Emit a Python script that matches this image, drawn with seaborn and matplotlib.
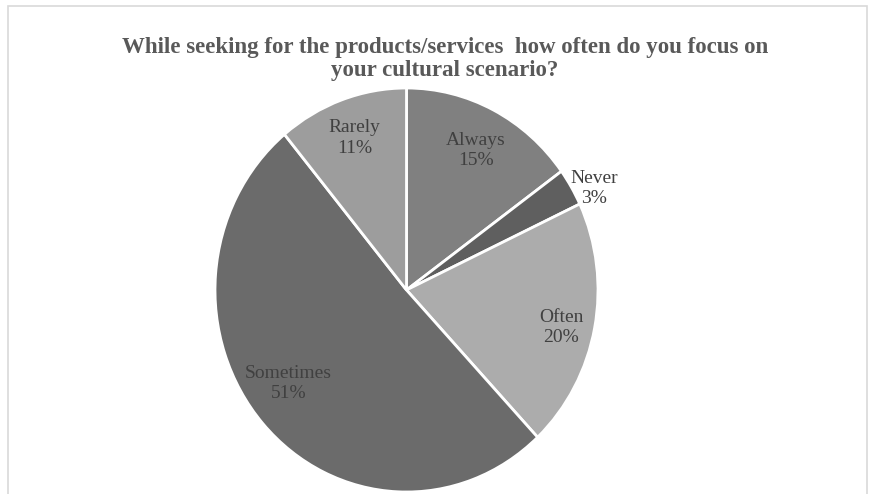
import numpy as np
import matplotlib
matplotlib.use("Agg")
import matplotlib.pyplot as plt
import seaborn as sns
from matplotlib.patches import Rectangle

categories = ["Always", "Never", "Often", "Sometimes", "Rarely"]
values = [15, 3, 20, 51, 11]
colors = ["#808080", "#5f5f5f", "#acacac", "#6b6b6b", "#9d9d9d"]
title = "While seeking for the products/services  how often do you focus on\nyour cultural scenario?"

sns.set_theme(style="white")
plt.rcParams['font.family'] = ['Liberation Serif', 'DejaVu Serif']

W, H = 869, 494
fig = plt.figure(figsize=(W / 100, H / 100), dpi=100)
fig.patch.set_facecolor("white")

# outer frame
fig.add_artist(Rectangle((8 / W, -0.01), (W - 10) / W, (H - 6) / H + 0.01,
                         transform=fig.transFigure, fill=False,
                         edgecolor="#d9d9d9", linewidth=1.2))

# pie box (slightly taller than wide, as in the reference)
left, right, top, bottom = 215, 598, 88, 492
ax = fig.add_axes([left / W, (H - bottom) / H, (right - left) / W, (bottom - top) / H])
wedges, _ = ax.pie(values, colors=colors, startangle=90, counterclock=False,
                   wedgeprops=dict(edgecolor="white", linewidth=2),
                   radius=1.0)
ax.set_xlim(-1, 1)
ax.set_ylim(-1, 1)
ax.set_aspect("auto")
ax.axis("off")

label_dist = [0.78, 1.10, 0.83, 0.77, 0.80]
label_shift = [0.8, 3.4, 2.2, 4.4, 0.0]
total = sum(values)
cum = 0
for cat, v, d, s in zip(categories, values, label_dist, label_shift):
    mid = (cum + v / 2) / total * 360 + s
    cum += v
    ang = np.deg2rad(90 - mid)
    x, y = d * np.cos(ang), d * np.sin(ang)
    ax.text(x, y, f"{cat}\n{v}%", ha="center", va="center", fontsize=14,
            color="#404040", linespacing=1.25, clip_on=False)

fig.text(445 / W, 1 - 59 / H, title, ha="center", va="center",
         fontsize=16.5, fontweight="bold", color="#595959", linespacing=1.15)

fig.savefig("out.png", dpi=100)
